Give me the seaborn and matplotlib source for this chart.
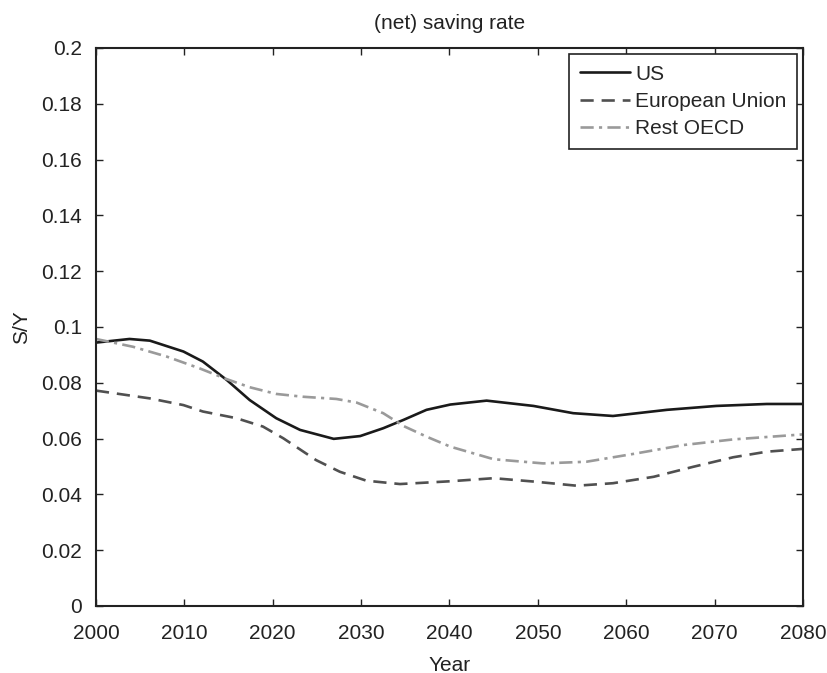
import pandas as pd
import matplotlib
matplotlib.use("Agg")
import matplotlib.pyplot as plt
import seaborn as sns

# valores
us_years = [2000, 2003.8, 2006.1, 2009.9, 2012.1, 2014.8, 2017.4, 2020.4, 2023.1, 2026.9,
            2029.9, 2032.5, 2034.8, 2037.4, 2040.1, 2044.2, 2049.5, 2054.0, 2058.5, 2064.6,
            2070.2, 2075.9, 2080]
us_vals = [0.0944, 0.0957, 0.0951, 0.0912, 0.0876, 0.0810, 0.0738, 0.0673, 0.0631, 0.0599,
           0.0609, 0.0637, 0.0667, 0.0703, 0.0722, 0.0736, 0.0717, 0.0691, 0.0681, 0.0703,
           0.0717, 0.0724, 0.0724]

eu_years = [2000, 2006.1, 2009.9, 2012.1, 2015.9, 2018.9, 2021.2, 2024.9, 2027.6, 2030.6,
            2034.4, 2040.1, 2045.0, 2049.5, 2054.4, 2058.5, 2063.1, 2067.6, 2072.1, 2075.9, 2080]
eu_vals = [0.0772, 0.0744, 0.0720, 0.0697, 0.0673, 0.0643, 0.0601, 0.0523, 0.0481, 0.0449,
           0.0437, 0.0447, 0.0458, 0.0446, 0.0431, 0.0440, 0.0463, 0.0499, 0.0533, 0.0553, 0.0563]

oecd_years = [2000, 2004.2, 2008.0, 2011.7, 2014.8, 2017.4, 2020.4, 2023.4, 2027.2, 2029.5,
              2032.5, 2034.8, 2037.4, 2040.1, 2045.0, 2050.6, 2055.5, 2060.8, 2066.5, 2072.1, 2080]
oecd_vals = [0.0957, 0.0929, 0.0894, 0.0852, 0.0813, 0.0784, 0.0760, 0.0750, 0.0742, 0.0729,
             0.0691, 0.0645, 0.0607, 0.0571, 0.0526, 0.0511, 0.0517, 0.0545, 0.0577, 0.0597, 0.0615]

series = ["US", "European Union", "Rest OECD"]

df = pd.concat([
    pd.DataFrame({"Year": us_years, "S/Y": us_vals, "Region": "US"}),
    pd.DataFrame({"Year": eu_years, "S/Y": eu_vals, "Region": "European Union"}),
    pd.DataFrame({"Year": oecd_years, "S/Y": oecd_vals, "Region": "Rest OECD"}),
], ignore_index=True)

sns.set_style("ticks")
plt.rcParams["font.family"] = ["Liberation Sans", "DejaVu Sans"]
plt.rcParams["xtick.direction"] = "in"
plt.rcParams["ytick.direction"] = "in"
plt.rcParams["lines.solid_joinstyle"] = "round"
plt.rcParams["lines.dash_joinstyle"] = "round"

colores = {"US": "#1a1a1a", "European Union": "#505050", "Rest OECD": "#9a9a9a"}
trazos = {"US": "", "European Union": (5, 3), "Rest OECD": (5, 2, 1.2, 2)}

fig = plt.figure(figsize=(8.27, 6.73), dpi=100)
ax = fig.add_axes([0.116, 0.0996, 0.855, 0.8291])

sns.lineplot(data=df, x="Year", y="S/Y", hue="Region", style="Region",
             hue_order=series, style_order=series, palette=colores, dashes=trazos,
             linewidth=1.9, ax=ax, sort=True)

ax.set_xlim(2000, 2080)
ax.set_ylim(0, 0.2)
ax.set_xticks(range(2000, 2081, 10))
ax.set_yticks([i * 0.02 for i in range(11)])
ax.set_yticklabels(["0", "0.02", "0.04", "0.06", "0.08", "0.1", "0.12", "0.14", "0.16", "0.18", "0.2"])
ax.tick_params(labelsize=15, length=5, width=1, colors="#222222", top=True, right=True)
ax.tick_params(axis="x", pad=13)
ax.tick_params(axis="y", pad=10)
for s in ax.spines.values():
    s.set_visible(True)
    s.set_linewidth(1.5)
    s.set_color("#222222")

ax.set_title("(net) saving rate", fontsize=15, color="#222222", pad=14)
ax.set_xlabel("Year", fontsize=15, color="#222222", labelpad=9)
ax.set_ylabel("S/Y", fontsize=15, color="#222222", labelpad=7)

leg = ax.legend(loc="upper right", fontsize=15, frameon=True, fancybox=False,
                framealpha=1, edgecolor="#222222", handlelength=2.4, handletextpad=0.25,
                borderaxespad=0.3, labelspacing=0.4, borderpad=0.5)
leg.get_frame().set_linewidth(1.2)

fig.savefig("out.png", dpi=100)
